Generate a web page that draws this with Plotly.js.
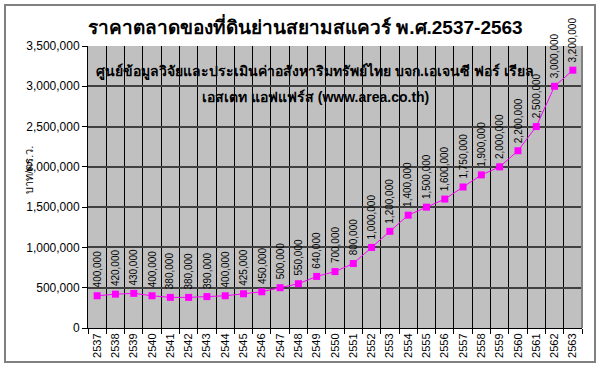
<!DOCTYPE html>
<html>
<head>
<meta charset="utf-8">
<script src="https://cdn.plot.ly/plotly-3.0.1.min.js"></script>
<style>
html,body{margin:0;padding:0;background:#fff;}
#wrap{position:relative;width:601px;height:369px;}
#chart{position:absolute;left:0;top:0;width:601px;height:369px;}
#frame{position:absolute;left:4px;top:4px;width:588px;height:355px;border:2px solid #808080;pointer-events:none;}
</style>
</head>
<body>
<div id="wrap"><div id="chart"></div><div id="frame"></div></div>
<script>
const years = [2537,2538,2539,2540,2541,2542,2543,2544,2545,2546,2547,2548,2549,2550,2551,2552,2553,2554,2555,2556,2557,2558,2559,2560,2561,2562,2563];
const prices = [400000,420000,430000,400000,380000,380000,390000,400000,425000,450000,500000,550000,640000,700000,800000,1000000,1200000,1400000,1500000,1600000,1750000,1900000,2000000,2200000,2500000,3000000,3200000];
const yTicks = [0,500000,1000000,1500000,2000000,2500000,3000000,3500000];
const titleText = "ราคาตลาดของที่ดินย่านสยามสแควร์ พ.ศ.2537-2563";
const sourceLine1 = "ศูนย์ข้อมูลวิจัยและประเมินค่าอสังหาริมทรัพย์ไทย บจก.เอเจนซี ฟอร์ เรียล";
const sourceLine2 = "เอสเตท แอฟแฟร์ส (www.area.co.th)";
const yTitle = "บาท/ตร.ว.";

const FONT = "Arial, 'Liberation Sans', Tahoma, sans-serif";
const fmt = v => v.toLocaleString('en-US');

const trace = {
  type: 'scatter', mode: 'lines+markers',
  x: years, y: prices,
  line: {color: '#FF00FF', width: 1},
  marker: {symbol: 'square', size: 7, color: '#FF00FF'},
  hoverinfo: 'x+y'
};

const labelAnns = years.map((yr, i) => ({
  x: yr, y: prices[i], xref: 'x', yref: 'y',
  text: fmt(prices[i]), textangle: -90,
  xanchor: 'center', yanchor: 'bottom', yshift: 6,
  showarrow: false, font: {family: FONT, size: 10, color: '#000'}
}));

const layout = {
  width: 601, height: 369,
  margin: {l: 88, r: 19, t: 46, b: 41, pad: 0},
  paper_bgcolor: '#fff', plot_bgcolor: '#C0C0C0',
  showlegend: false,
  font: {family: FONT, color: '#000'},
  title: {text: '<b>' + titleText + '</b>', x: 0.508, xanchor: 'center', y: 0.925, yanchor: 'middle',
          font: {family: FONT, size: 19, color: '#000'}},
  xaxis: {
    type: 'linear', range: [years[0] - 0.5, years[years.length - 1] + 0.5],
    tickmode: 'linear', tick0: years[0], dtick: 1, tickformat: 'd',
    showgrid: false, ticks: '',
    tickangle: -90, tickfont: {family: FONT, size: 11, color: '#000'},
    minor: {tickmode: 'linear', tick0: years[0] - 0.5, dtick: 1, showgrid: true,
            gridcolor: '#000', gridwidth: 1, ticks: 'outside', ticklen: 5, tickcolor: '#000', tickwidth: 1},
    showline: true, linecolor: '#000', linewidth: 1, zeroline: false, fixedrange: true
  },
  yaxis: {
    range: [0, 3500000], tickvals: yTicks, tickformat: ',',
    showgrid: true, gridcolor: '#404040', gridwidth: 2,
    ticks: 'outside', ticklen: 5, tickcolor: '#000', tickwidth: 1,
    tickfont: {family: FONT, size: 12, color: '#000'},
    showline: true, linecolor: '#000', linewidth: 1, zeroline: false, fixedrange: true
  },
  shapes: [
    {type: 'line', xref: 'paper', yref: 'paper', x0: 1, x1: 1, y0: 0, y1: 1, line: {color: '#808080', width: 2}}
  ],
  annotations: labelAnns.concat([
    {xref: 'paper', yref: 'paper', x: 0.46, y: 0.91, xanchor: 'center', yanchor: 'middle', showarrow: false,
     text: '<b>' + sourceLine1 + '</b>', font: {family: FONT, size: 14, color: '#000'}},
    {xref: 'paper', yref: 'paper', x: 0.46, y: 0.82, xanchor: 'center', yanchor: 'middle', showarrow: false,
     text: '<b>' + sourceLine2 + '</b>', font: {family: FONT, size: 14, color: '#000'}},
    {xref: 'paper', yref: 'paper', x: -0.12, y: 0.56, xanchor: 'center', yanchor: 'middle', showarrow: false,
     textangle: -90, text: yTitle, font: {family: FONT, size: 11, color: '#000'}}
  ])
};

Plotly.newPlot('chart', [trace], layout, {displayModeBar: false, staticPlot: true});
</script>
</body>
</html>
